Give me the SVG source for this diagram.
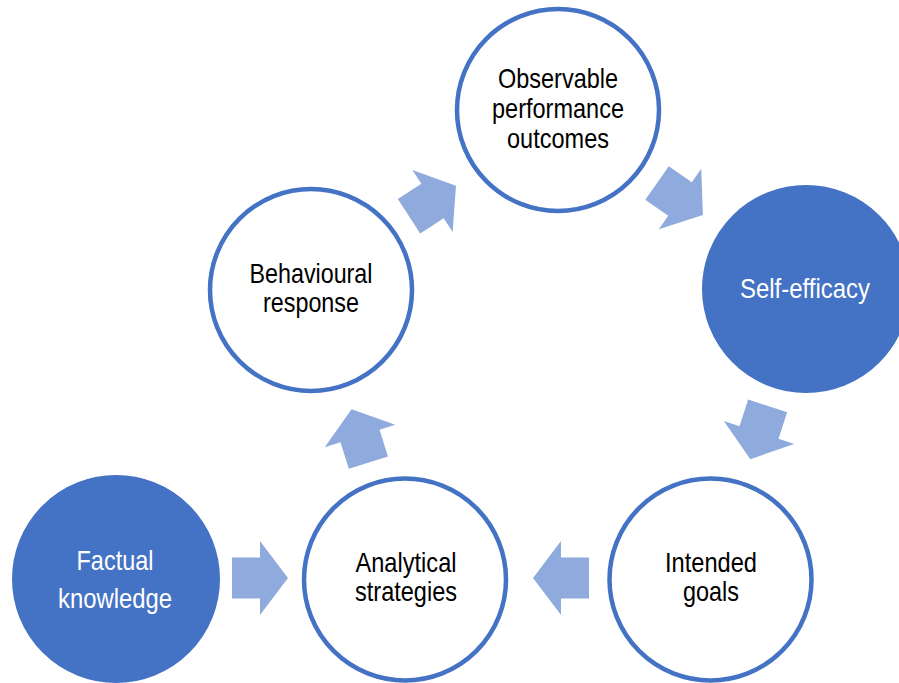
<svg xmlns="http://www.w3.org/2000/svg" width="899" height="683" viewBox="0 0 899 683">
  <style>
    .ring { fill: #ffffff; stroke: #4472C4; stroke-width: 4.5; }
    .solid { fill: #4472C4; stroke: #4472C4; stroke-width: 4; }
    .lbl { font-family: "Liberation Sans", Arial, sans-serif; font-size: 28px; text-anchor: middle; fill: #000000; }
    .lbl.inv { fill: #ffffff; }
    .arrow { fill: #8FAADC; }
  </style>
  <defs>
    <!-- block arrow pointing +x, origin at the centre of the head base -->
    <polygon id="blk" points="-28,-20.5 0,-20.5 0,-37 28,0 0,37 0,20.5 -28,20.5"/>
  </defs>

  <g id="connectors">
    <use href="#blk" class="arrow" transform="translate(432.5 201) rotate(-33)"/>
    <use href="#blk" class="arrow" transform="translate(680 199) rotate(35)"/>
    <use href="#blk" class="arrow" transform="translate(759 432.5) rotate(108)"/>
    <use href="#blk" class="arrow" transform="translate(561 578) rotate(180)"/>
    <use href="#blk" class="arrow" transform="translate(260 578)"/>
    <use href="#blk" class="arrow" transform="translate(360 436) rotate(-107.5)"/>
  </g>

  <g id="observable">
    <circle class="ring" cx="558" cy="110" r="101"/>
    <text class="lbl" x="558" y="88" textLength="120" lengthAdjust="spacingAndGlyphs">Observable</text>
    <text class="lbl" x="558" y="118" textLength="132" lengthAdjust="spacingAndGlyphs">performance</text>
    <text class="lbl" x="558" y="148" textLength="102" lengthAdjust="spacingAndGlyphs">outcomes</text>
  </g>

  <g id="self-efficacy">
    <circle class="solid" cx="806" cy="289" r="102"/>
    <text class="lbl inv" x="805" y="298" textLength="130" lengthAdjust="spacingAndGlyphs">Self-efficacy</text>
  </g>

  <g id="intended-goals">
    <circle class="ring" cx="710.5" cy="579.5" r="101"/>
    <text class="lbl" x="711" y="572" textLength="92" lengthAdjust="spacingAndGlyphs">Intended</text>
    <text class="lbl" x="711" y="601" textLength="56" lengthAdjust="spacingAndGlyphs">goals</text>
  </g>

  <g id="analytical-strategies">
    <circle class="ring" cx="405" cy="579.5" r="101"/>
    <text class="lbl" x="406" y="572" textLength="101" lengthAdjust="spacingAndGlyphs">Analytical</text>
    <text class="lbl" x="406" y="601" textLength="102" lengthAdjust="spacingAndGlyphs">strategies</text>
  </g>

  <g id="factual-knowledge">
    <circle class="solid" cx="116" cy="579" r="102"/>
    <text class="lbl inv" x="115" y="570" textLength="77" lengthAdjust="spacingAndGlyphs">Factual</text>
    <text class="lbl inv" x="115" y="608" textLength="114" lengthAdjust="spacingAndGlyphs">knowledge</text>
  </g>

  <g id="behavioural-response">
    <circle class="ring" cx="311" cy="290" r="101"/>
    <text class="lbl" x="311" y="283" textLength="123" lengthAdjust="spacingAndGlyphs">Behavioural</text>
    <text class="lbl" x="311" y="312" textLength="96" lengthAdjust="spacingAndGlyphs">response</text>
  </g>
</svg>
